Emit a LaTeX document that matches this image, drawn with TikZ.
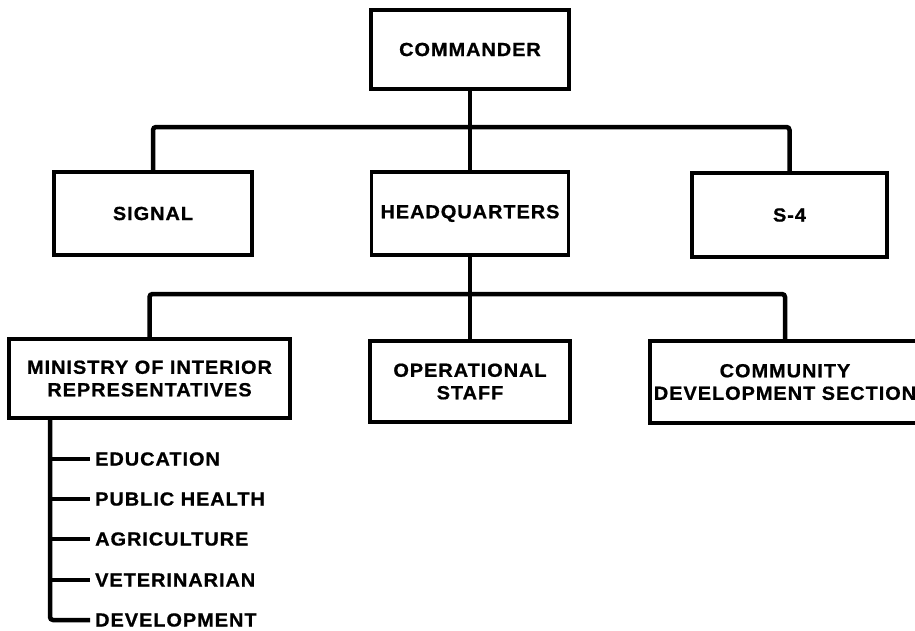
\documentclass[tikz,border=0pt]{standalone}
\usepackage{fontspec}
\newfontfamily\chartfont[FakeStretch=1.05, LetterSpace=5, FakeBold=0.8]{Liberation Sans}
\usetikzlibrary{calc}
\begin{document}
\begin{tikzpicture}[x=1pt,y=-1pt,
  unit/.style={draw, line width=3.5pt, rectangle, align=center, inner sep=2pt,
    font=\chartfont\bfseries\fontsize{19}{22.5}\selectfont},
  item/.style={anchor=west, inner xsep=5pt, inner ysep=1pt,
    font=\chartfont\bfseries\fontsize{19}{22.5}\selectfont},
  link/.style={line width=4.5pt, rounded corners=3pt}
]
\useasboundingbox (0,0) rectangle (915,630);
\fill[white] (0,0) rectangle (915,630);

% top level
\node[unit, minimum width=198pt, minimum height=79pt] (cmd) at (470,49.5) {COMMANDER};
\node[unit, minimum width=198pt, minimum height=83pt] (sig) at (153,213.5) {SIGNAL};
\node[unit, minimum width=197pt, minimum height=83pt] (hq) at (470,213.5) {HEADQUARTERS};
\node[unit, minimum width=195pt, minimum height=84pt] (s4) at (789.5,215) {S-4};

% second level
\node[unit, minimum width=281pt, minimum height=79pt] (moi) at (149.5,378.5) {MINISTRY OF INTERIOR\\REPRESENTATIVES};
\node[unit, minimum width=200pt, minimum height=81pt] (ops) at (470,381.5) {OPERATIONAL\\STAFF};
\node[unit, minimum width=270pt, minimum height=82pt] (cds) at (785,382) {COMMUNITY\\DEVELOPMENT SECTION};

% junction points
\coordinate (j1) at (470,127);
\coordinate (j2) at (470,294);

\draw[link] (cmd.south) -- (hq.north);
\draw[link] (sig.north) |- (j1) -| (s4.north);
\draw[link] (hq.south) -- (ops.north);
\draw[link] (moi.north) |- (j2) -| (cds.north);

% ministry sub-list
\node[item] (edu) at (90,459) {EDUCATION};
\node[item] (pub) at (90,499) {PUBLIC HEALTH};
\node[item] (agr) at (90,539) {AGRICULTURE};
\node[item] (vet) at (90,580) {VETERINARIAN};
\node[item] (dev) at (90,620) {DEVELOPMENT};

\coordinate (m0) at (50,418);
\draw[link] (m0) |- (dev.west);
\draw[link] (m0 |- edu.west) -- (edu.west);
\draw[link] (m0 |- pub.west) -- (pub.west);
\draw[link] (m0 |- agr.west) -- (agr.west);
\draw[link] (m0 |- vet.west) -- (vet.west);
\end{tikzpicture}
\end{document}
